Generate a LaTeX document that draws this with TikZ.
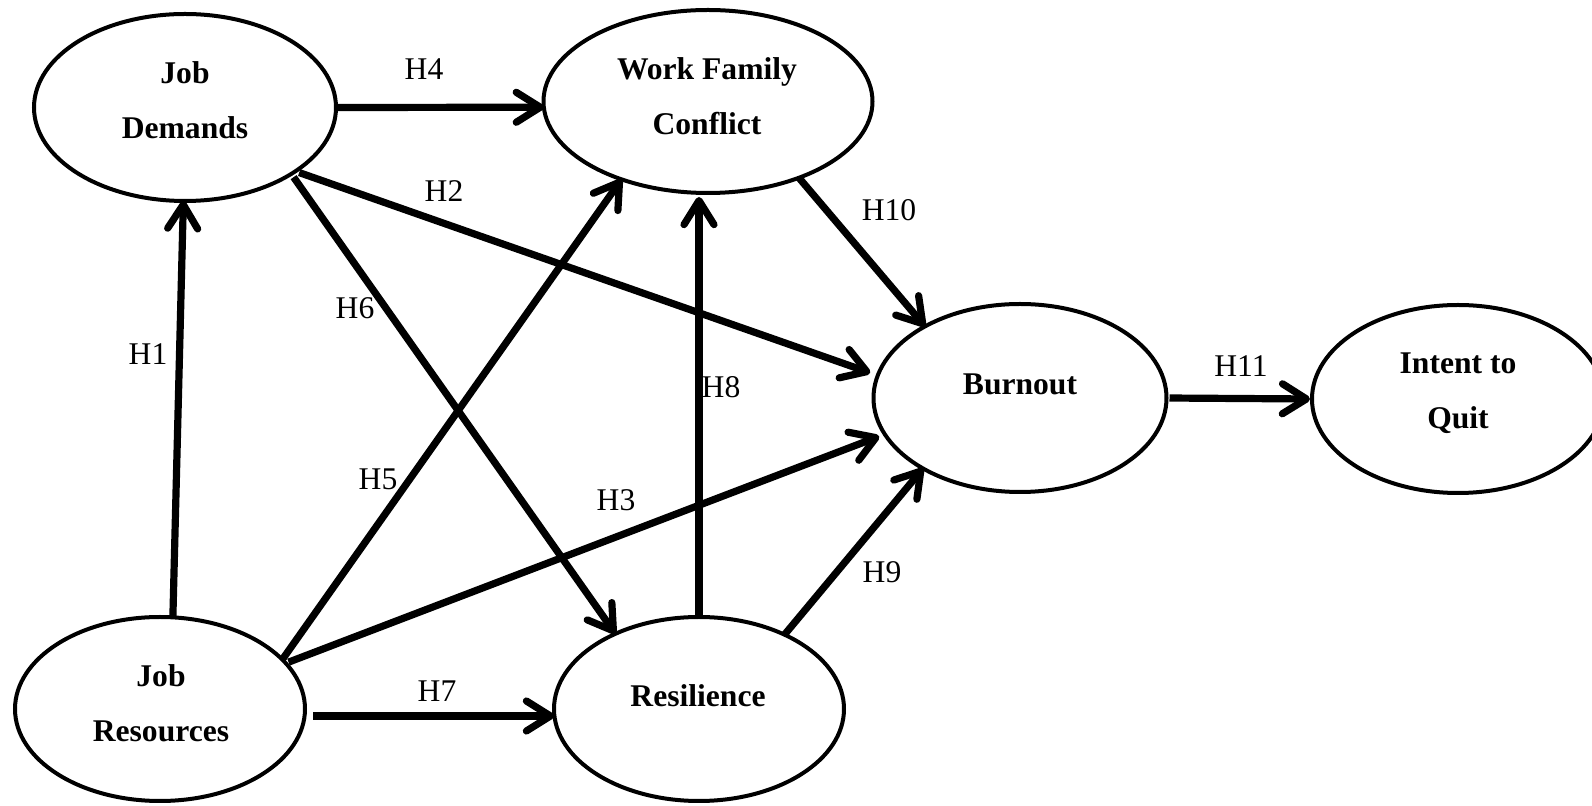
\documentclass[tikz,border=0pt]{standalone}
\usepackage{fontspec}
\setmainfont{Liberation Serif}
\usetikzlibrary{shapes.geometric,arrows.meta}
\begin{document}
\begin{tikzpicture}[x=0.5pt,y=-0.5pt,
  construct/.style={ellipse, draw, line width=2pt, inner sep=0pt, outer sep=0pt},
  ctitle/.style={font=\fontsize{15.8}{27.5}\selectfont\bfseries, align=center, inner sep=0pt, text depth=0pt},
  hyp/.style={font=\fontsize{15.8}{19}\selectfont, inner sep=0pt},
  link/.style={line width=3.6pt, -{Straight Barb[length=12pt,width=15pt,round]}}]

\clip (0,0) rectangle (1592,806);

% constructs
\node[construct, minimum width=151pt, minimum height=93.5pt] (jd)  at (185,107.5) {};
\node[construct, minimum width=164.5pt, minimum height=91.5pt] (wfc) at (708,101.5) {};
\node[construct, minimum width=146.5pt, minimum height=94pt] (bo)  at (1020,398) {};
\node[construct, minimum width=146pt, minimum height=94pt] (itq) at (1458,399) {};
\node[construct, minimum width=145pt, minimum height=92pt] (jr)  at (160,709) {};
\node[construct, minimum width=145pt, minimum height=92pt] (res) at (699,709) {};

% construct names
\node[ctitle] (jd-t)  at (185,100)    {Job\\Demands};
\node[ctitle] (wfc-t) at (707,96.5)   {Work Family\\Conflict};
\node[ctitle] (bo-t)  at (1020,384.5) {Burnout};
\node[ctitle] (itq-t) at (1458,390.5) {Intent to\\Quit};
\node[ctitle] (jr-t)  at (161,703)    {Job\\Resources};
\node[ctitle] (res-t) at (698,696)    {Resilience};

% hypothesised paths
\draw[link] (jr.82) -- (jd.-91);
\draw[link, shorten <=2pt, shorten >=4pt] (jd.-30) -- (bo.171);
\draw[link, shorten <=1.5pt, shorten >=3pt] (jr.20) -- (bo.195);
\draw[link, shorten <=1pt] (jd.0) -- (wfc.182);
\draw[link] (jr.22) -- (wfc.222);
\draw[link, shorten <=2pt] (jd.-32) -- (res.138);
\draw[link, shorten <=4pt] ([yshift=-3.5pt]jr.east) -- ([yshift=-3.5pt]res.west);
\draw[link, shorten >=2pt] (res.north) -- (res.north |- wfc.south);
\draw[link] (res.41) -- (bo.216);
\draw[link] (wfc.-40) -- (bo.143);
\draw[link, shorten <=1.5pt, shorten >=1pt] (bo.east) -- (itq.west);

% hypothesis labels
\node[hyp] (h1)  at (148,354)  {H1};
\node[hyp] (h2)  at (444,191)  {H2};
\node[hyp] (h3)  at (616,500)  {H3};
\node[hyp] (h4)  at (424,69)   {H4};
\node[hyp] (h5)  at (378,479)  {H5};
\node[hyp] (h6)  at (355,308)  {H6};
\node[hyp] (h7)  at (437,691)  {H7};
\node[hyp] (h8)  at (721,387)  {H8};
\node[hyp] (h9)  at (882,572)  {H9};
\node[hyp] (h10) at (889,210)  {H10};
\node[hyp] (h11) at (1241,366) {H11};
\end{tikzpicture}
\end{document}
